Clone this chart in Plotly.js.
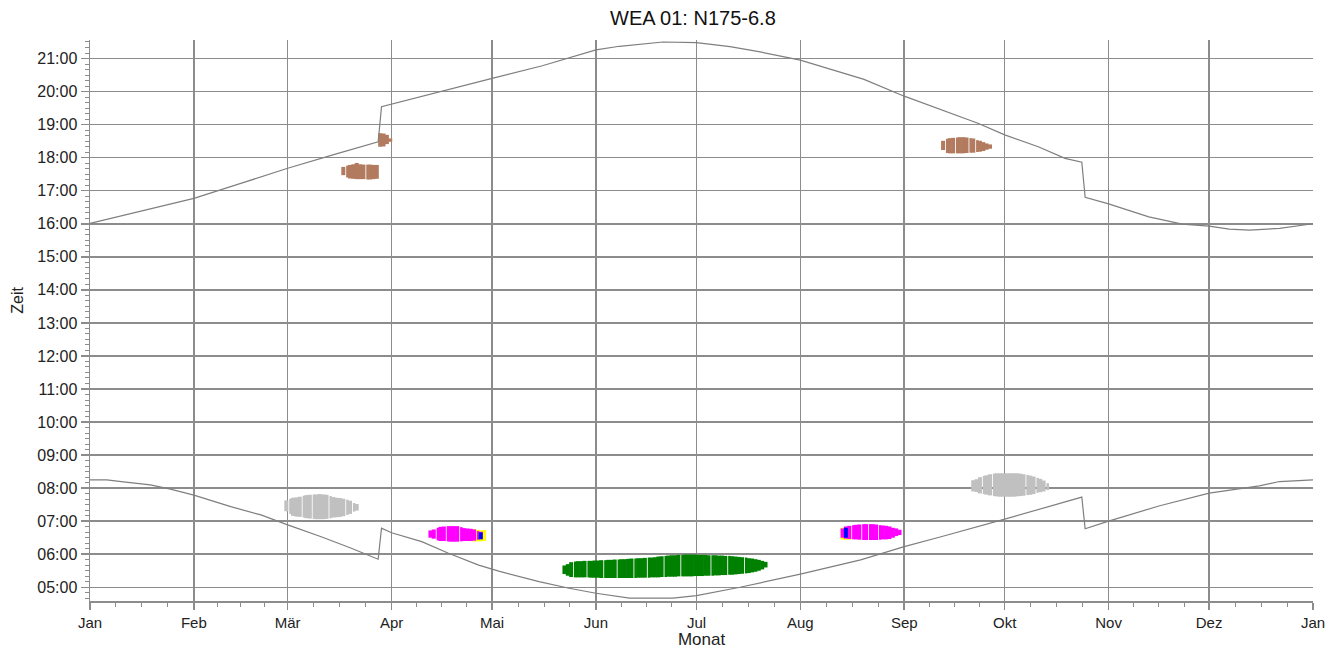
<!DOCTYPE html>
<html>
<head>
<meta charset="utf-8">
<script src="https://cdn.plot.ly/plotly-3.0.1.min.js"></script>
<style>
html,body{margin:0;padding:0;background:#fff;}
#chart{width:1328px;height:649px;}
</style>
</head>
<body>
<div id="chart"></div>
<script>
// ---- axis labels ----
const monthStarts = [0, 31, 59, 90, 120, 151, 181, 212, 243, 273, 304, 334, 365];
const monthLabels = ['Jan', 'Feb', 'Mär', 'Apr', 'Mai', 'Jun', 'Jul', 'Aug', 'Sep', 'Okt', 'Nov', 'Dez', 'Jan'];
const hourTicks = [5, 6, 7, 8, 9, 10, 11, 12, 13, 14, 15, 16, 17, 18, 19, 20, 21];
const hourLabels = ['05:00', '06:00', '07:00', '08:00', '09:00', '10:00', '11:00', '12:00', '13:00',
                    '14:00', '15:00', '16:00', '17:00', '18:00', '19:00', '20:00', '21:00'];

// ---- sunrise / sunset (day of year, hours) ----
const sunriseDay  = [0, 5, 10, 18, 24, 31, 42, 51, 59, 69, 78, 86, 87, 90, 99, 107, 116, 122, 134, 143, 151, 161, 174, 181, 194, 212, 230, 243, 254, 273, 296, 297, 304, 319, 334, 349, 355, 365];
const sunriseHour = [8.25, 8.25, 8.19, 8.10, 7.97, 7.79, 7.44, 7.19, 6.89, 6.53, 6.18, 5.85, 6.79, 6.65, 6.38, 6.03, 5.67, 5.49, 5.17, 4.97, 4.82, 4.67, 4.67, 4.75, 5.00, 5.40, 5.83, 6.23, 6.53, 7.06, 7.73, 6.77, 7.00, 7.46, 7.85, 8.07, 8.20, 8.25];
const sunsetDay  = [0, 18, 31, 45, 59, 73, 86, 87, 90, 105, 120, 135, 143, 151, 158, 164, 171, 181, 191, 200, 212, 231, 243, 265, 273, 283, 291, 296, 297, 304, 316, 326, 334, 340, 346, 355, 361, 365];
const sunsetHour = [16.01, 16.46, 16.77, 17.22, 17.68, 18.10, 18.48, 19.54, 19.62, 20.02, 20.40, 20.78, 21.02, 21.26, 21.37, 21.44, 21.50, 21.48, 21.36, 21.20, 20.95, 20.37, 19.86, 19.04, 18.69, 18.33, 17.98, 17.86, 16.80, 16.60, 16.21, 15.99, 15.93, 15.84, 15.81, 15.86, 15.94, 16.00];

// ---- shadow periods: first day, daily start / end hours, days with a white separator ----
const grayA_first = 58;
const grayA_start = [7.30, 7.22, 7.16, 7.14, 7.13, 7.11, 7.09, 7.08, 7.07, 7.06, 7.06, 7.06, 7.07, 7.09, 7.11, 7.12, 7.13, 7.15, 7.19, 7.22, 7.29, 7.32];
const grayA_end   = [7.63, 7.68, 7.71, 7.72, 7.74, 7.77, 7.79, 7.80, 7.81, 7.81, 7.82, 7.81, 7.80, 7.76, 7.73, 7.71, 7.70, 7.68, 7.65, 7.62, 7.55, 7.52];
const grayA_seps  = [59, 63, 66, 71, 76, 78];

const brownA_first = 75;
const brownA_start = [17.47, 17.40, 17.37, 17.36, 17.35, 17.35, 17.35, 17.34, 17.34, 17.35, 17.36];
const brownA_end   = [17.72, 17.76, 17.78, 17.80, 17.84, 17.80, 17.79, 17.79, 17.79, 17.78, 17.78];
const brownA_seps  = [76, 82];

const brownB_first = 86;
const brownB_start = [18.33, 18.34, 18.41, 18.48];
const brownB_end   = [18.74, 18.73, 18.69, 18.58];
const brownB_seps  = [];

const yellowA_first = 114;
const yellowA_start = [6.39, 6.39, 6.39, 6.40];
const yellowA_end   = [6.76, 6.74, 6.72, 6.73];

const magentaA_first = 101;
const magentaA_start = [6.50, 6.47, 6.42, 6.40, 6.40, 6.39, 6.38, 6.38, 6.38, 6.39, 6.40, 6.40, 6.40, 6.41, 6.44, 6.46];
const magentaA_end   = [6.72, 6.75, 6.80, 6.83, 6.84, 6.85, 6.85, 6.85, 6.85, 6.82, 6.79, 6.78, 6.77, 6.75, 6.70, 6.68];
const magentaA_seps  = [103, 106, 110, 115];

const blueA_first = 116;
const blueA_start = [6.45];
const blueA_end   = [6.66];

const green_first = 141;
const green_start = [5.40, 5.35, 5.31, 5.30, 5.30, 5.30, 5.30, 5.30, 5.29, 5.29, 5.29, 5.28, 5.28, 5.28, 5.28, 5.28, 5.28, 5.28, 5.28, 5.28, 5.28,
                     5.28, 5.29, 5.29, 5.29, 5.29, 5.30, 5.30, 5.30, 5.31, 5.31, 5.32, 5.32, 5.32, 5.33, 5.33, 5.33, 5.33, 5.33, 5.34, 5.34,
                     5.34, 5.35, 5.35, 5.35, 5.36, 5.36, 5.37, 5.37, 5.38, 5.38, 5.39, 5.40, 5.41, 5.42, 5.43, 5.45, 5.47, 5.50, 5.54, 5.60];
const green_end   = [5.66, 5.70, 5.76, 5.78, 5.79, 5.79, 5.80, 5.80, 5.80, 5.81, 5.81, 5.82, 5.82, 5.83, 5.83, 5.84, 5.84, 5.85, 5.85, 5.86, 5.87,
                     5.87, 5.88, 5.88, 5.89, 5.90, 5.90, 5.91, 5.93, 5.94, 5.95, 5.96, 5.97, 5.97, 5.98, 5.98, 5.99, 5.99, 5.99, 5.99, 5.98,
                     5.98, 5.98, 5.97, 5.97, 5.97, 5.96, 5.96, 5.95, 5.95, 5.94, 5.93, 5.92, 5.91, 5.90, 5.88, 5.87, 5.85, 5.83, 5.80, 5.77];
const green_seps  = [144, 148, 153, 157, 162, 166, 171, 176, 185, 190, 195];

const yellowB_first = 224;
const yellowB_start = [6.44, 6.44, 6.44];
const yellowB_end   = [6.80, 6.83, 6.85];

const magentaB_first = 224;
const magentaB_start = [6.50, 6.47, 6.46, 6.45, 6.45, 6.44, 6.43, 6.43, 6.43, 6.43, 6.43, 6.44, 6.45, 6.45, 6.46, 6.50, 6.55, 6.58];
const magentaB_end   = [6.78, 6.84, 6.86, 6.88, 6.89, 6.90, 6.91, 6.91, 6.91, 6.91, 6.90, 6.88, 6.87, 6.86, 6.84, 6.80, 6.78, 6.74];
const magentaB_seps  = [227, 230, 232, 235];

const blueB_first = 225;
const blueB_start = [6.50];
const blueB_end   = [6.80];

const brownC_first = 254;
const brownC_start = [18.23, 18.14, 18.13, 18.13, 18.13, 18.13, 18.13, 18.14, 18.15, 18.15, 18.17, 18.18, 18.20, 18.24, 18.27];
const brownC_end   = [18.51, 18.57, 18.59, 18.60, 18.61, 18.62, 18.62, 18.61, 18.59, 18.58, 18.53, 18.51, 18.47, 18.43, 18.40];
const brownC_seps  = [255, 258, 262, 264];

const grayB_first = 263;
const grayB_start = [7.90, 7.88, 7.84, 7.82, 7.80, 7.78, 7.76, 7.75, 7.74, 7.74, 7.74, 7.74, 7.74, 7.75, 7.76, 7.77, 7.79, 7.80, 7.82, 7.86, 7.88, 7.90, 7.94];
const grayB_end   = [8.24, 8.27, 8.33, 8.37, 8.39, 8.42, 8.44, 8.45, 8.45, 8.45, 8.45, 8.45, 8.45, 8.45, 8.44, 8.42, 8.40, 8.38, 8.35, 8.31, 8.28, 8.23, 8.15];
const grayB_seps  = [266, 269, 279, 282, 285];

// ---- colours ----
const colBrown = '#b27b5f', colGray = '#c0c0c0', colMagenta = '#ff00ff', colGreen = '#008000',
      colYellow = '#ffff00', colBlue = '#0000ff', colSun = '#7f7f7f', colGrid = '#8c8c8c';

function blob(first, starts, ends, color, seps) {
  seps = seps || [];
  const days = starts.map((_, i) => first + i);
  return {
    type: 'bar',
    x: days,
    base: starts,
    y: starts.map((s, i) => ends[i] - s),
    offset: days.map(d => seps.includes(d) ? 0.45 : 0),
    width: days.map(d => seps.includes(d) ? 0.75 : 1.2),
    marker: {color: color, line: {width: 0}},
    hoverinfo: 'skip',
    showlegend: false
  };
}

const traces = [
  {type: 'scatter', mode: 'lines', x: sunriseDay, y: sunriseHour, line: {color: colSun, width: 1.2}, hoverinfo: 'skip', showlegend: false},
  {type: 'scatter', mode: 'lines', x: sunsetDay, y: sunsetHour, line: {color: colSun, width: 1.2}, hoverinfo: 'skip', showlegend: false},
  blob(grayA_first, grayA_start, grayA_end, colGray, grayA_seps),
  blob(brownA_first, brownA_start, brownA_end, colBrown, brownA_seps),
  blob(brownB_first, brownB_start, brownB_end, colBrown, brownB_seps),
  blob(yellowA_first, yellowA_start, yellowA_end, colYellow),
  blob(magentaA_first, magentaA_start, magentaA_end, colMagenta, magentaA_seps),
  blob(blueA_first, blueA_start, blueA_end, colBlue),
  blob(green_first, green_start, green_end, colGreen, green_seps),
  blob(yellowB_first, yellowB_start, yellowB_end, colYellow),
  blob(magentaB_first, magentaB_start, magentaB_end, colMagenta, magentaB_seps),
  blob(blueB_first, blueB_start, blueB_end, colBlue),
  blob(brownC_first, brownC_start, brownC_end, colBrown, brownC_seps),
  blob(grayB_first, grayB_start, grayB_end, colGray, grayB_seps)
];

// quarter-month minor ticks
const minorX = [];
for (let m = 0; m < monthStarts.length - 1; m++) {
  const a = monthStarts[m], b = monthStarts[m + 1];
  for (let k = 1; k < 4; k++) minorX.push(a + (b - a) * k / 4);
}

const fontFam = 'Liberation Sans, Arial, sans-serif';
const layout = {
  width: 1328, height: 649,
  margin: {l: 90, r: 15, t: 40, b: 48},
  paper_bgcolor: '#ffffff', plot_bgcolor: '#ffffff',
  font: {family: fontFam, color: '#222222', size: 16},
  barmode: 'overlay',
  title: {text: 'WEA 01: N175-6.8', font: {family: fontFam, size: 20, color: '#111111'},
          x: 0.493, xref: 'paper', xanchor: 'center', y: 0.972, yref: 'container', yanchor: 'middle'},
  xaxis: {
    range: [0, 365], fixedrange: true,
    tickmode: 'array', tickvals: monthStarts, ticktext: monthLabels,
    tickfont: {size: 15},
    showgrid: true, gridcolor: colGrid, gridwidth: 1.5,
    zeroline: false,
    showline: true, linecolor: colGrid, linewidth: 1.5,
    ticks: 'outside', ticklen: 7, tickcolor: colGrid, tickwidth: 1.5,
    minor: {tickmode: 'array', tickvals: minorX, ticks: 'outside', ticklen: 4, tickcolor: colGrid, tickwidth: 1, showgrid: false},
    title: {text: 'Monat', font: {size: 17}, standoff: 2}
  },
  yaxis: {
    range: [4.585, 21.56], fixedrange: true,
    tickmode: 'array', tickvals: hourTicks, ticktext: hourLabels,
    tickfont: {size: 16},
    showgrid: true, gridcolor: colGrid, gridwidth: 1.5,
    zeroline: false,
    showline: true, linecolor: colGrid, linewidth: 1.5,
    ticks: 'outside', ticklen: 8, tickcolor: colGrid, tickwidth: 1.5,
    minor: {tickmode: 'linear', tick0: 0, dtick: 1 / 6, ticks: 'outside', ticklen: 4, tickcolor: colGrid, tickwidth: 1, showgrid: false}
  },
  annotations: [
    {text: 'Zeit', textangle: -90, showarrow: false, xref: 'paper', yref: 'paper',
     x: -0.0589, y: 0.537, xanchor: 'center', yanchor: 'middle', font: {size: 16, color: '#222222'}}
  ]
};

Plotly.newPlot('chart', traces, layout, {displayModeBar: false, staticPlot: true});
</script>
</body>
</html>
